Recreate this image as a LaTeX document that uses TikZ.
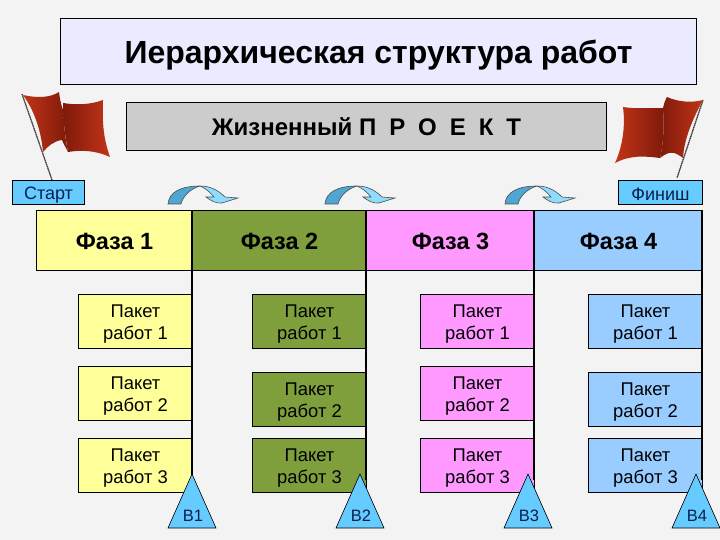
\documentclass[tikz,border=0pt]{standalone}
\usepackage{fontspec}
\setmainfont{Liberation Sans}
\definecolor{bgc}{HTML}{F3F3F3}
\definecolor{yel}{HTML}{FFFF99}
\definecolor{grn}{HTML}{7F9F3C}
\definecolor{pnk}{HTML}{FF99FF}
\definecolor{blu}{HTML}{99CCFF}
\definecolor{sky}{HTML}{66CCFF}
\definecolor{flagr}{HTML}{C23418}
\definecolor{flagd}{HTML}{7E1A0A}
\definecolor{arrd}{HTML}{4FA6D3}
\definecolor{arrl}{HTML}{8FDCFF}
\definecolor{navy}{HTML}{0A1F50}
\newcommand{\liftp}{\rule{0pt}{17.5pt}}
\newcommand{\gapl}{\hspace{0.54em}}
\tikzset{x=1pt,y=-1pt,
 box/.style={draw=black,line width=1pt,inner sep=0pt,align=center,anchor=north west},
 phasebox/.style={box,minimum width=#1,minimum height=60pt,font=\bfseries\fontsize{23.5}{28}\selectfont},
 pack/.style={box,minimum width=114pt,minimum height=54pt,font=\fontsize{18.4}{22}\selectfont},
 tagbox/.style={box,fill=sky,text=navy,minimum height=24pt,font=\fontsize{18}{21}\selectfont},
 tri/.style={draw=black,line width=.6pt,fill=sky},
 divider/.style={line width=1.6pt,black},
 tag/.style={font=\fontsize{16.5}{20}\selectfont,inner sep=0pt,text=navy},
 pole/.style={line width=1.3pt,black!75,dash pattern=on 1.5pt off .5pt}
}
\begin{document}
\begin{tikzpicture}
\useasboundingbox (0,0) rectangle (720,540);
\fill[bgc] (0,0) rectangle (720,540);
\node[box,fill=white!92!blue,minimum width=636pt,minimum height=66pt,font=\bfseries\fontsize{32}{38}\selectfont] (title) at (60,18) {\rule{0pt}{31pt}Иерархическая структура работ};
\node[box,fill=black!20,minimum width=480pt,minimum height=48pt,font=\bfseries\fontsize{24}{28}\selectfont] (proj) at (126,102) {Жизненный П\gapl Р\gapl О\gapl Е\gapl К\gapl Т};
% flags
\draw[pole] (22,94) -- (52,180);
\shade[left color=flagr,right color=flagd] (23,95) .. controls (36,98) and (50,98) .. (59,92) .. controls (60,100) and (61,104) .. (63,110) .. controls (64,125) and (65,138) .. (68,152) .. controls (65,146) and (63,143) .. (62,140) .. controls (54,141) and (48,146) .. (43,152) .. controls (41,130) and (34,110) .. (23,95) -- cycle;
\shade[left color=flagd,right color=flagr] (63,103) .. controls (75,105) and (90,105) .. (103,100) .. controls (102,125) and (104,140) .. (110,157) .. controls (95,150) and (80,150) .. (68,152) .. controls (65,135) and (63,120) .. (63,103) -- cycle;
\draw[pole] (703,100) -- (677,178);
\shade[left color=flagr,right color=flagd] (623,107) .. controls (635,109) and (650,108) .. (663,108) .. controls (664,125) and (664,140) .. (660,158) .. controls (645,156) and (630,155) .. (615,163) .. controls (621,150) and (626,130) .. (623,107) -- cycle;
\shade[left color=flagd,right color=flagr] (667,97) .. controls (678,102) and (692,103) .. (703,100) .. controls (692,120) and (684,140) .. (683,158) .. controls (675,152) and (670,150) .. (660,158) .. controls (664,140) and (664,125) .. (663,108) .. controls (664,104) and (665,100) .. (667,97) -- cycle;
\node[tagbox,minimum width=72pt] (start) at (12,180) {\rule{0pt}{17pt}Старт};
\node[tagbox,minimum width=84pt] (finish) at (618,180) {\rule{0pt}{17pt}Финиш};
% phases
\node[phasebox=156pt,fill=yel] (p1) at (36,210) {\rule{0pt}{19pt}Фаза 1};
\node[phasebox=174pt,fill=grn] (p2) at (192,210) {\rule{0pt}{19pt}Фаза 2};
\node[phasebox=168pt,fill=pnk] (p3) at (366,210) {\rule{0pt}{19pt}Фаза 3};
\node[phasebox=168pt,fill=blu] (p4) at (534,210) {\rule{0pt}{19pt}Фаза 4};
% packets
\foreach \n/\x/\c/\yb/\yc in {1/78/yel/366/438,2/252/grn/372/438,3/420/pnk/366/438,4/588/blu/372/438}{
 \node[pack,fill=\c] (a\n) at (\x,294) {\liftp Пакет\\работ 1};
 \node[pack,fill=\c] (b\n) at (\x,\yb) {\liftp Пакет\\работ 2};
 \node[pack,fill=\c] (c\n) at (\x,\yc) {\liftp Пакет\\работ 3};
}
% dividers
\foreach \n/\x in {a/192,b/366,c/534,d/702}{
 \coordinate (\n t) at (\x,210);
 \coordinate (\n b) at (\x,480);
 \draw[divider] (\n t) -- (\n b);
}
% triangles
\foreach \n/\x in {1/192,2/360,3/528,4/696}{
 \draw[tri] (\x,474) -- (\x+24,528) -- (\x-24,528) -- cycle;
 \node[tag] (v\n) at (\x+1,516) {В\n};
}
% curved arrows
\foreach \x in {238,395,575}{
 \fill[arrd] (\x-70,204) .. controls (\x-69,192) and (\x-57,186) .. (\x-38,186)
   .. controls (\x-48,189) and (\x-55,196) .. (\x-57,204) -- cycle;
 \fill[arrl] (\x-38,186) .. controls (\x-28,186) and (\x-20,190) .. (\x-13,197)
   -- (\x,198) -- (\x-16,203) .. controls (\x-22,204) and (\x-28,200) .. (\x-32,197)
   -- (\x-24,197) .. controls (\x-28,192) and (\x-33,188) .. (\x-38,186) -- cycle;
 \draw[line width=.6pt,black!70] (\x-70,204) .. controls (\x-69,192) and (\x-57,186) .. (\x-38,186)
   .. controls (\x-28,186) and (\x-20,190) .. (\x-13,197) -- (\x,198) -- (\x-16,203) .. controls (\x-22,204) and (\x-28,200) .. (\x-32,197) -- (\x-24,197) .. controls (\x-28,192) and (\x-33,188) .. (\x-38,186) .. controls (\x-48,189) and (\x-55,196) .. (\x-57,204) -- cycle;
}
\end{tikzpicture}
\end{document}
